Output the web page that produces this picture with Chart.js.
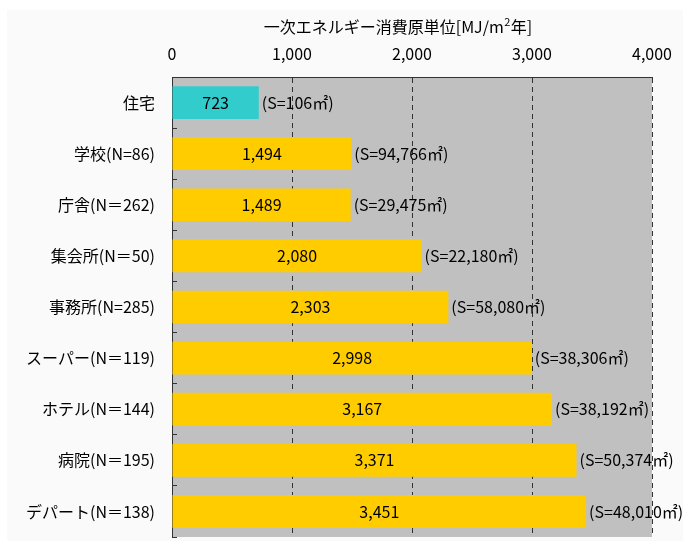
<!DOCTYPE html>
<html lang="ja">
<head>
<meta charset="utf-8">
<title>一次エネルギー消費原単位</title>
<script src="https://cdn.jsdelivr.net/npm/chart.js@4/dist/chart.umd.min.js"></script>
<style>
  html, body { margin: 0; padding: 0; background: #ffffff; }
  canvas { display: block; }
</style>
</head>
<body>
<canvas id="chart" width="683" height="541"></canvas>
<script>
// Building types (with sample counts)
const categories = [
  '住宅',
  '学校(N=86)',
  '庁舎(N＝262)',
  '集会所(N＝50)',
  '事務所(N=285)',
  'スーパー(N＝119)',
  'ホテル(N＝144)',
  '病院(N＝195)',
  'デパート(N＝138)'
];
// Primary energy consumption per floor area [MJ/m2 year]
const intensity = [723, 1494, 1489, 2080, 2303, 2998, 3167, 3371, 3451];
// Average floor area S [m2]
const floorArea = [106, 94766, 29475, 22180, 58080, 38306, 38192, 50374, 48010];
// Value axis ticks
const axisTicks = [0, 1000, 2000, 3000, 4000];
// Axis title: text before superscript, superscript, text after
const axisTitle = ['一次エネルギー消費原単位[MJ/m', '2', '年]'];

const COLOR_HOUSE = '#33CCCC';
const COLOR_OTHER = '#FFCC00';
const PLOT_BG = '#C0C0C0';
const PANEL_BG = '#FAFAFA';
const FONT = '"Noto Sans CJK JP", "Liberation Sans", sans-serif';

const fmt = v => v.toLocaleString('en-US');

// Panel + plot-area background
const backgroundPlugin = {
  id: 'backgrounds',
  beforeDraw(chart) {
    const { ctx, chartArea: a, width, height } = chart;
    ctx.save();
    ctx.fillStyle = PANEL_BG;
    ctx.fillRect(7, 10, width - 7, height - 10);
    ctx.fillStyle = PLOT_BG;
    ctx.fillRect(a.left, a.top, a.right - a.left, a.bottom - a.top);
    ctx.restore();
  }
};

// Axis title with a raised superscript
const axisTitlePlugin = {
  id: 'axisTitle',
  afterDraw(chart) {
    const { ctx, chartArea: a } = chart;
    ctx.save();
    const mainFont = '16px ' + FONT;
    const supFont = '11px ' + FONT;
    ctx.font = mainFont;
    const w0 = ctx.measureText(axisTitle[0]).width;
    const w2 = ctx.measureText(axisTitle[2]).width;
    ctx.font = supFont;
    const w1 = ctx.measureText(axisTitle[1]).width + 1;
    const total = w0 + w1 + w2;
    const cx = (a.left + a.right) / 2 - 14;
    const y = 27;
    let x = cx - total / 2;
    ctx.fillStyle = '#000';
    ctx.textBaseline = 'middle';
    ctx.textAlign = 'left';
    ctx.font = mainFont;
    ctx.fillText(axisTitle[0], x, y);
    x += w0;
    ctx.font = supFont;
    ctx.fillText(axisTitle[1], x + 0.5, y - 5);
    x += w1;
    ctx.font = mainFont;
    ctx.fillText(axisTitle[2], x, y);
    ctx.restore();
  }
};

// Value inside each bar and floor area to its right
const barLabelPlugin = {
  id: 'barLabels',
  afterDatasetsDraw(chart) {
    const { ctx } = chart;
    const meta = chart.getDatasetMeta(0);
    ctx.save();
    ctx.fillStyle = '#000';
    ctx.textBaseline = 'middle';
    ctx.font = '16px ' + FONT;
    meta.data.forEach((bar, i) => {
      const { x, y, base } = bar.getProps(['x', 'y', 'base'], true);
      ctx.textAlign = 'center';
      ctx.fillText(fmt(intensity[i]), (x + base) / 2, y);
      ctx.textAlign = 'left';
      ctx.fillText('(S=' + fmt(floorArea[i]) + '㎡)', x + 3, y);
    });
    ctx.restore();
  }
};

new Chart(document.getElementById('chart'), {
  type: 'bar',
  data: {
    labels: categories,
    datasets: [{
      data: intensity,
      backgroundColor: ctx => (ctx.dataIndex === 0 ? COLOR_HOUSE : COLOR_OTHER),
      borderWidth: 0,
      categoryPercentage: 1.0,
      barPercentage: 0.64
    }]
  },
  options: {
    indexAxis: 'y',
    responsive: false,
    devicePixelRatio: 1,
    animation: false,
    layout: { padding: { top: 0, left: 0, right: 31, bottom: 4 } },
    plugins: {
      legend: { display: false },
      tooltip: { enabled: false }
    },
    scales: {
      x: {
        position: 'top',
        min: axisTicks[0],
        max: axisTicks[axisTicks.length - 1],
        afterBuildTicks: scale => { scale.ticks = axisTicks.map(v => ({ value: v })); },
        afterFit: scale => {
          scale.height = 77;
          scale.paddingLeft = 0;
          scale.paddingRight = 0;
        },
        grid: {
          drawTicks: false,
          color: '#333333',
          lineWidth: 1
        },
        border: { display: true, color: '#333333', width: 1, dash: [5, 4] },
        ticks: {
          padding: 13,
          color: '#000',
          font: { family: FONT, size: 16 },
          callback: v => fmt(v)
        }
      },
      y: {
        afterFit: scale => {
          scale.width = 172;
          scale.paddingTop = 0;
          scale.paddingBottom = 0;
        },
        grid: {
          drawOnChartArea: false,
          drawTicks: true,
          tickLength: -5,
          color: '#333333',
          lineWidth: 1
        },
        border: { display: true, color: '#333333', width: 1 },
        ticks: {
          padding: 22,
          color: '#000',
          font: { family: FONT, size: 16 }
        }
      }
    }
  },
  plugins: [backgroundPlugin, axisTitlePlugin, barLabelPlugin]
});
</script>
</body>
</html>
